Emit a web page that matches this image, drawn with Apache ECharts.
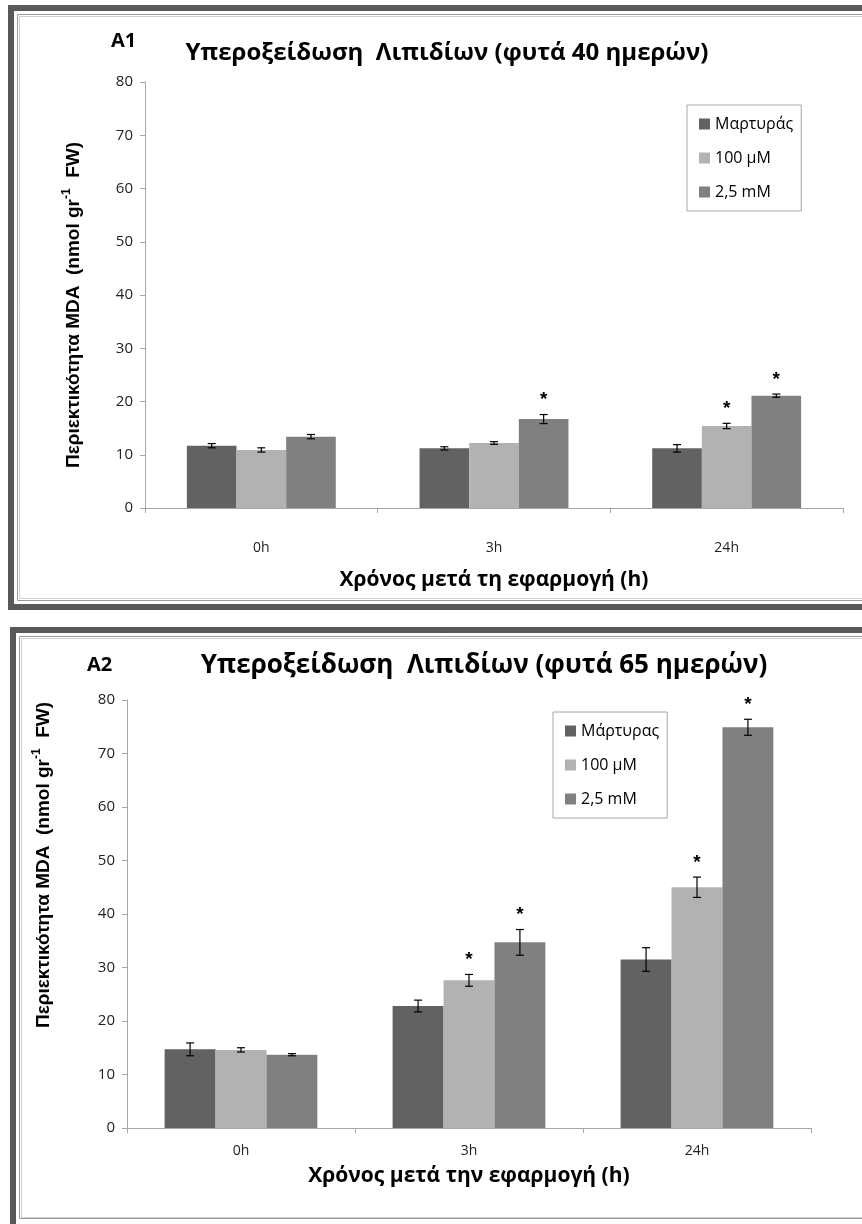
<!DOCTYPE html>
<html>
<head>
<meta charset="utf-8">
<script src="https://cdn.jsdelivr.net/npm/echarts@6/dist/echarts.min.js"></script>
<style>
  html, body { margin: 0; padding: 0; background: #ffffff; }
  #chart { width: 862px; height: 1224px; }
</style>
</head>
<body>
<div id="chart"></div>
<script>
// Time points after application
const categories = ['0h', '3h', '24h'];
const yTicks = [0, 10, 20, 30, 40, 50, 60, 70, 80];

// A1: plants 40 days old (MDA, nmol gr-1 FW)
const a1Names = ['Μαρτυράς', '100 μM', '2,5 mM'];
const a1Control = [11.7, 11.2, 11.2];
const a1Low = [10.9, 12.2, 15.4];
const a1High = [13.4, 16.7, 21.1];
const a1ControlErr = [0.4, 0.3, 0.7];
const a1LowErr = [0.4, 0.25, 0.5];
const a1HighErr = [0.4, 0.85, 0.3];
const a1ControlSig = [0, 0, 0];
const a1LowSig = [0, 0, 1];
const a1HighSig = [0, 1, 1];

// A2: plants 65 days old
const a2Names = ['Μάρτυρας', '100 μM', '2,5 mM'];
const a2Control = [14.7, 22.8, 31.5];
const a2Low = [14.6, 27.6, 45.0];
const a2High = [13.7, 34.7, 74.9];
const a2ControlErr = [1.2, 1.1, 2.2];
const a2LowErr = [0.4, 1.1, 1.9];
const a2HighErr = [0.2, 2.4, 1.5];
const a2ControlSig = [0, 0, 0];
const a2LowSig = [0, 1, 1];
const a2HighSig = [0, 1, 1];

const colors = ['#626262', '#b2b2b2', '#808080'];
const FONT = '"Open Sans", "Noto Sans", sans-serif';
const AXIS_COLOR = '#a6a6a6';

// Per-bar error/significance rows: [categoryIndex, seriesIndex, mean, err, sig]
function errorRows(means, errs, sigs) {
  const rows = [];
  means.forEach((m, s) => {
    m.forEach((v, c) => rows.push([c, s, v, errs[s][c], sigs[s][c]]));
  });
  return rows;
}

function errorSeries(idx, rows, gapFrac) {
  return {
    type: 'custom',
    xAxisIndex: idx,
    yAxisIndex: idx,
    z: 5,
    silent: true,
    encode: { x: 0, y: 2 },
    data: rows,
    renderItem: function (params, api) {
      const c = api.value(0), s = api.value(1), m = api.value(2), e = api.value(3), sig = api.value(4);
      const band = api.size([1, 0])[0];
      const bw = band * (1 - gapFrac) / 3;
      const base = api.coord([c, m]);
      const x = base[0] + (s - 1) * bw;
      const yTop = api.coord([c, m + e])[1];
      const yBot = api.coord([c, m - e])[1];
      const cap = 4;
      const st = { stroke: '#000', lineWidth: 1.2 };
      const children = [
        { type: 'line', shape: { x1: x, y1: yTop, x2: x, y2: yBot }, style: st },
        { type: 'line', shape: { x1: x - cap, y1: yTop, x2: x + cap, y2: yTop }, style: st },
        { type: 'line', shape: { x1: x - cap, y1: yBot, x2: x + cap, y2: yBot }, style: st }
      ];
      if (sig) {
        children.push({
          type: 'text',
          style: {
            text: '*', x: x, y: yTop - 5,
            align: 'center', verticalAlign: 'bottom',
            font: 'bold 19px "Liberation Sans", sans-serif', fill: '#000'
          }
        });
      }
      return { type: 'group', children: children };
    }
  };
}

function barSeries(idx, names, values, gap) {
  return values.map((vals, i) => ({
    name: names[i],
    type: 'bar',
    xAxisIndex: idx,
    yAxisIndex: idx,
    barGap: '0%',
    barCategoryGap: gap,
    itemStyle: { color: colors[i] },
    data: vals
  }));
}

function xAxis(idx, name, nameGap, labelMargin) {
  return {
    type: 'category',
    gridIndex: idx,
    data: categories,
    name: name,
    nameLocation: 'middle',
    nameGap: nameGap,
    nameTextStyle: { fontFamily: FONT, fontWeight: 'bold', fontSize: 21, color: '#000' },
    axisLine: { lineStyle: { color: AXIS_COLOR } },
    axisTick: { show: true, length: 5, lineStyle: { color: AXIS_COLOR } },
    axisLabel: { fontFamily: FONT, fontSize: 14, color: '#222', margin: labelMargin }
  };
}

function yAxis(idx) {
  return {
    type: 'value',
    gridIndex: idx,
    min: 0, max: 80, interval: 10,
    splitLine: { show: false },
    axisLine: { show: true, lineStyle: { color: AXIS_COLOR } },
    axisTick: { show: true, length: 5, lineStyle: { color: AXIS_COLOR } },
    axisLabel: {
      fontFamily: FONT, fontSize: 15, color: '#222', margin: 12,
      formatter: v => (yTicks.indexOf(v) >= 0 ? String(v) : '')
    }
  };
}

function legend(names, left, top, gap) {
  return {
    data: names,
    orient: 'vertical',
    left: left, top: top,
    icon: 'rect',
    itemWidth: 11, itemHeight: 11,
    itemGap: gap,
    padding: [11, 8, 11, 12],
    borderColor: '#a6a6a6', borderWidth: 1,
    selectedMode: false,
    textStyle: { fontFamily: FONT, fontSize: 16, color: '#000' }
  };
}

function yTitle(x, y) {
  const base = { fontFamily: '"Liberation Sans", Arial, sans-serif', fontWeight: 'bold', color: '#000', lineHeight: 22 };
  return {
    type: 'text',
    x: x, y: y,
    rotation: Math.PI / 2,
    style: {
      text: '{a|Περιεκτικότητα MDA  (nmol gr}{s|-1}{a|  FW)}',
      align: 'center', verticalAlign: 'middle',
      rich: {
        a: Object.assign({}, base, { fontSize: 19, verticalAlign: 'bottom' }),
        s: Object.assign({}, base, { fontSize: 12, verticalAlign: 'top' })
      }
    }
  };
}

const chart = echarts.init(document.getElementById('chart'), null, { renderer: 'canvas' });

const option = {
  backgroundColor: '#ffffff',
  animation: false,
  title: [
    { text: 'A1', left: 106, top: 26, textStyle: { fontFamily: FONT, fontWeight: 'bold', fontSize: 20, color: '#000' } },
    { text: 'Υπεροξείδωση  Λιπιδίων (φυτά 40 ημερών)', left: 442, top: 36, textAlign: 'center',
      textStyle: { fontFamily: FONT, fontWeight: 'bold', fontSize: 24, color: '#000' } },
    { text: 'A2', left: 82, top: 650, textStyle: { fontFamily: FONT, fontWeight: 'bold', fontSize: 20, color: '#000' } },
    { text: 'Υπεροξείδωση  Λιπιδίων (φυτά 65 ημερών)', left: 479, top: 648, textAlign: 'center',
      textStyle: { fontFamily: FONT, fontWeight: 'bold', fontSize: 26, color: '#000' } }
  ],
  legend: [
    legend(a1Names, 687, 105, 18),
    legend(a2Names, 553, 712, 18)
  ],
  grid: [
    { left: 145, right: 19, top: 82, height: 426 },
    { left: 127, right: 51, top: 700, height: 428 }
  ],
  xAxis: [
    xAxis(0, 'Χρόνος μετά τη εφαρμογή (h)', 62, 33),
    xAxis(1, 'Χρόνος μετά την εφαρμογή (h)', 38, 16)
  ],
  yAxis: [yAxis(0), yAxis(1)],
  graphic: [
    // panel frames
    { type: 'rect', shape: { x: 11, y: 8, width: 900, height: 599 }, style: { fill: 'none', stroke: '#595959', lineWidth: 6 } },
    { type: 'rect', shape: { x: 17.5, y: 14.5, width: 900, height: 586 }, style: { fill: 'none', stroke: '#9a9a9a', lineWidth: 1 } },
    { type: 'rect', shape: { x: 19.5, y: 16.5, width: 900, height: 582 }, style: { fill: 'none', stroke: '#d0d0d0', lineWidth: 1 } },
    { type: 'rect', shape: { x: 13, y: 630, width: 900, height: 700 }, style: { fill: 'none', stroke: '#595959', lineWidth: 6 } },
    { type: 'rect', shape: { x: 19.5, y: 636.5, width: 900, height: 582 }, style: { fill: 'none', stroke: '#9a9a9a', lineWidth: 1 } },
    { type: 'rect', shape: { x: 21.5, y: 638.5, width: 900, height: 579 }, style: { fill: 'none', stroke: '#d0d0d0', lineWidth: 1 } },
    yTitle(72, 305),
    yTitle(42, 865)
  ],
  series: [
    ...barSeries(0, a1Names, [a1Control, a1Low, a1High], '36%'),
    errorSeries(0, errorRows([a1Control, a1Low, a1High], [a1ControlErr, a1LowErr, a1HighErr], [a1ControlSig, a1LowSig, a1HighSig]), 0.36),
    ...barSeries(1, a2Names, [a2Control, a2Low, a2High], '33%'),
    errorSeries(1, errorRows([a2Control, a2Low, a2High], [a2ControlErr, a2LowErr, a2HighErr], [a2ControlSig, a2LowSig, a2HighSig]), 0.33)
  ]
};

chart.setOption(option);
</script>
</body>
</html>
